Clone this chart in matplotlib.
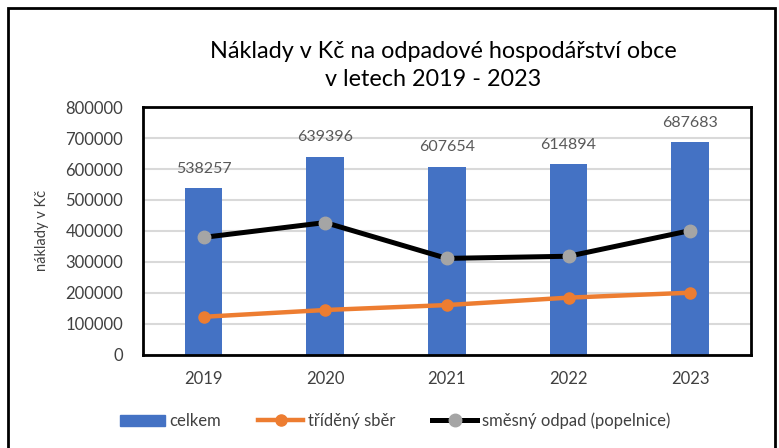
import matplotlib.pyplot as plt
import matplotlib.patches as patches
from matplotlib.lines import Line2D
import numpy as np

plt.rcParams['font.family'] = ['Lato', 'DejaVu Sans']

# data
years = ['2019', '2020', '2021', '2022', '2023']
celkem = [538257, 639396, 607654, 614894, 687683]
trideny_sber = [122000, 144000, 160000, 184000, 200000]
smesny_odpad = [379000, 427000, 311000, 318000, 401000]
yticks = [0, 100000, 200000, 300000, 400000, 500000, 600000, 700000, 800000]

blue = '#4472C4'
orange = '#ED7D31'
grey = '#A5A5A5'
text_col = '#404040'

W, H = 779, 448
fig = plt.figure(figsize=(W / 100, H / 100), dpi=100)

# outer chart border
fig.patches.append(patches.Rectangle((8 / W, -0.05), 767 / W, 1.05 - 8 / H,
                                     transform=fig.transFigure, fill=False,
                                     edgecolor='black', linewidth=2))

ax = fig.add_axes([142.7 / W, (H - 354.5) / H, 608.3 / W, (354.5 - 107.3) / H])
x = np.arange(len(years))

ax.bar(x, celkem, width=0.31, color=blue, zorder=2, label='celkem')
ax.plot(x, trideny_sber, color=orange, linewidth=3.2, marker='o', markersize=8,
        zorder=3, label='tříděný sběr')
ax.plot(x, smesny_odpad, color='black', linewidth=3.6, marker='o', markersize=9,
        markerfacecolor=grey, markeredgecolor=grey, zorder=3,
        label='směsný odpad (popelnice)')

for xi, v in zip(x, celkem):
    ax.annotate(str(v), (xi, v), xytext=(0, 9), textcoords='offset points',
                ha='center', va='bottom', fontsize=11.5, color='#595959')

ax.set_xlim(-0.5, 4.5)
ax.set_ylim(0, 800000)
ax.set_xticks(x)
ax.set_xticklabels(years)
ax.set_yticks(yticks)
ax.set_yticklabels([str(t) for t in yticks])
ax.tick_params(axis='both', length=0, labelsize=12, colors=text_col)
ax.tick_params(axis='x', pad=12)
ax.tick_params(axis='y', pad=14)
ax.grid(axis='y', color='#D9D9D9', linewidth=1.5, zorder=0)
ax.set_axisbelow(True)
for s in ax.spines.values():
    s.set_linewidth(2)
    s.set_color('black')

ax.set_ylabel('náklady v Kč', fontsize=10.5, color=text_col, labelpad=12)

# title, two centred lines
fig.text(443 / W, 1 - 52 / H, 'Náklady v Kč na odpadové hospodářství obce',
         ha='center', va='center', fontsize=16.8, color='black')
fig.text(433 / W, 1 - 80 / H, 'v letech 2019 - 2023',
         ha='center', va='center', fontsize=16.8, color='black')

handles = [patches.Patch(color=blue),
           Line2D([], [], color=orange, linewidth=3.2, marker='o', markersize=8),
           Line2D([], [], color='black', linewidth=3.6, marker='o', markersize=9,
                  markerfacecolor=grey, markeredgecolor=grey)]
labels = ['celkem', 'tříděný sběr', 'směsný odpad (popelnice)']
fig.legend(handles, labels, loc='center', bbox_to_anchor=(395 / W, 1 - 421 / H), ncol=3,
           frameon=False, fontsize=12, handlelength=2.7, handletextpad=0.3,
           columnspacing=2.2, labelcolor=text_col)

fig.savefig('out.png', dpi=100)
